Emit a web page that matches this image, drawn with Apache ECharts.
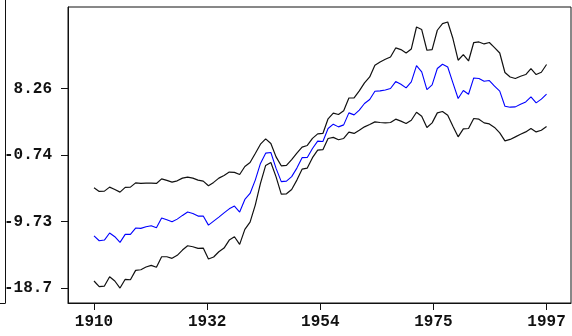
<!DOCTYPE html>
<html><head><meta charset="utf-8">
<script src="https://cdn.jsdelivr.net/npm/echarts@6/dist/echarts.min.js"></script>
<style>html,body{margin:0;padding:0;background:#fff}#c{width:572px;height:336px}</style>
</head><body><div id="c"></div>
<script>
var years = [];
for (var y = 1910; y <= 1997; y++) years.push(y);

var upper = [-5.15,-5.64,-5.60,-5.06,-5.37,-5.73,-5.10,-5.06,-4.48,-4.56,
-4.52,-4.52,-4.56,-3.94,-4.15,-4.38,-4.21,-3.84,-3.71,-3.84,
-4.11,-4.25,-4.88,-4.42,-3.84,-3.48,-3.03,-3.07,-3.35,-2.27,
-1.73,-0.51,0.74,1.46,0.84,-0.97,-2.18,-2.13,-1.35,-0.47,
0.34,0.57,1.53,2.13,2.19,4.17,4.93,4.75,5.26,6.98,
6.99,7.94,9.02,9.82,11.40,11.85,12.21,12.52,13.74,13.52,
13.06,13.60,16.57,16.22,13.43,13.52,16.13,17.03,17.25,15.01,
12.08,12.85,11.98,14.47,14.55,14.28,14.47,13.79,13.06,10.42,
9.82,9.61,9.92,10.15,10.96,10.15,10.46,11.50];

var mid = [-11.63,-12.30,-12.21,-11.26,-11.76,-12.52,-11.44,-11.44,-10.59,-10.63,
-10.41,-10.28,-10.55,-9.24,-9.47,-9.74,-9.38,-8.88,-8.43,-8.61,
-8.97,-8.97,-10.19,-9.65,-9.11,-8.53,-7.99,-7.62,-8.43,-6.72,
-5.91,-4.11,-1.86,-0.47,-0.38,-2.53,-4.32,-4.25,-3.64,-2.49,
-1.08,-1.05,0.16,1.15,1.11,2.86,3.44,3.08,3.35,4.97,
4.70,5.33,6.24,6.78,7.90,7.94,8.07,8.26,9.20,8.84,
8.34,9.15,11.36,10.50,8.12,8.75,10.96,11.54,11.17,9.02,
6.91,7.99,7.49,9.69,9.61,9.25,9.34,8.57,7.90,5.87,
5.74,5.78,6.14,6.45,7.13,6.32,6.82,7.49];

var lower = [-17.74,-18.51,-18.42,-17.16,-17.74,-18.69,-17.51,-17.57,-16.30,-16.22,
-15.85,-15.62,-15.89,-14.46,-14.46,-14.68,-14.27,-13.56,-12.98,-13.11,
-13.33,-13.29,-14.77,-14.50,-13.79,-13.29,-12.21,-11.76,-12.79,-10.77,
-9.78,-7.49,-4.56,-2.13,-1.73,-3.67,-6.00,-5.96,-5.37,-4.11,
-2.63,-2.49,-1.08,-0.07,0.00,1.51,1.66,1.34,1.51,2.36,
2.19,2.63,3.08,3.40,3.75,3.67,3.62,3.67,4.12,3.85,
3.54,3.98,5.06,4.52,3.00,3.62,4.97,5.16,4.66,3.17,
1.73,2.81,2.86,4.21,4.12,3.62,3.48,3.00,2.27,1.19,
1.38,1.73,2.09,2.40,2.86,2.40,2.63,3.13];

var xTickValues = [1910, 1931.75, 1953.5, 1975.25, 1997];
var xTickLabels = ['1910', '1932', '1954', '1975', '1997'];
var yTickValues = [-18.715, -9.725, -0.735, 8.255];
var yTickLabels = ['-18.7', '-9.73', '-0.74', '8.26'];

function pairs(arr) { return years.map(function (yr, i) { return [yr, arr[i]]; }); }
function nearestLabel(vals, labels, v) {
  var best = 0;
  for (var i = 1; i < vals.length; i++) if (Math.abs(vals[i] - v) < Math.abs(vals[best] - v)) best = i;
  return labels[best];
}

var ink = '#111';
var font = { fontFamily: 'Liberation Mono', fontWeight: 'bold', fontSize: 16, color: '#111' };
var lineOnly = { axisLine: { show: true, onZero: false, lineStyle: { color: ink, width: 1 } },
  axisTick: { show: false }, axisLabel: { show: false }, splitLine: { show: false } };

var chart = echarts.init(document.getElementById('c'), null, { renderer: 'canvas' });
chart.setOption({
  animation: false,
  backgroundColor: '#fff',
  grid: [
    { left: 68, right: 1, top: 7, bottom: 33, show: true, borderColor: ink, borderWidth: 1, backgroundColor: 'transparent' },
    { left: 0, right: 567, top: 0, bottom: 33, show: false }
  ],
  xAxis: [{
    type: 'value', gridIndex: 0, min: 1905.0, max: 2001.7,
    splitLine: { show: false },
    axisLine: { show: true, onZero: false, lineStyle: { color: ink, width: 1 } },
    axisTick: { show: true, length: 7, customValues: xTickValues, lineStyle: { color: ink, width: 1 } },
    axisLabel: Object.assign({ margin: 11, customValues: xTickValues,
      formatter: function (v) { return nearestLabel(xTickValues, xTickLabels, v); } }, font)
  }, Object.assign({ type: 'value', gridIndex: 1, min: 0, max: 1, position: 'bottom' }, lineOnly)],
  yAxis: [{
    type: 'value', gridIndex: 0, min: -20.71, max: 19.27,
    splitLine: { show: false },
    axisLine: { show: true, onZero: false, lineStyle: { color: ink, width: 1 } },
    axisTick: { show: true, length: 7, customValues: yTickValues, lineStyle: { color: ink, width: 1 } },
    axisLabel: Object.assign({ margin: 16, customValues: yTickValues,
      formatter: function (v) { return nearestLabel(yTickValues, yTickLabels, v); } }, font)
  }, Object.assign({ type: 'value', gridIndex: 1, min: 0, max: 1, position: 'right' }, lineOnly)],
  series: [
    { type: 'line', name: 'upper', data: pairs(upper), showSymbol: false, lineStyle: { color: '#111', width: 1.2 }, itemStyle: { color: '#111' } },
    { type: 'line', name: 'mid', data: pairs(mid), showSymbol: false, lineStyle: { color: '#0000ff', width: 1.1 }, itemStyle: { color: '#0000ff' } },
    { type: 'line', name: 'lower', data: pairs(lower), showSymbol: false, lineStyle: { color: '#111', width: 1.2 }, itemStyle: { color: '#111' } }
  ]
});
</script></body></html>
